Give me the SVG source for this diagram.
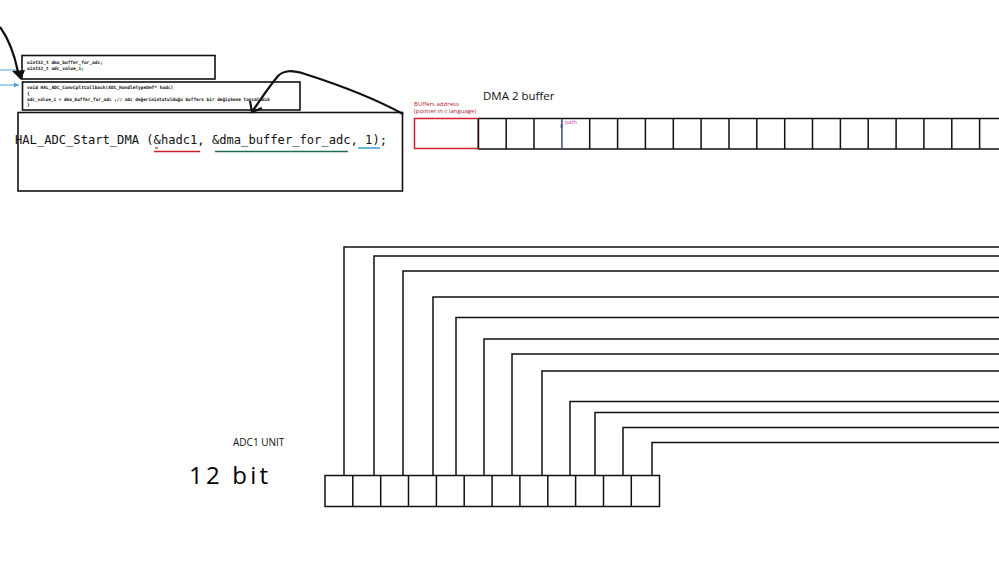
<svg xmlns="http://www.w3.org/2000/svg" width="999" height="563" viewBox="0 0 999 563">
<style>
.box{fill:#fff;stroke:#111;stroke-width:1.6}
.cell{fill:none;stroke:#111;stroke-width:1.5}
.wire{fill:none;stroke:#111;stroke-width:1.5}
.code{font-family:"DejaVu Sans Mono","Liberation Mono",monospace;font-weight:bold;font-size:4.5px;fill:#111}
.big{font-family:"DejaVu Sans Mono","Liberation Mono",monospace;font-size:12.2px;fill:#111}
.lbl{font-family:"Open Sans","Noto Sans",sans-serif;fill:#111}
</style>
<defs>
<marker id="bl" markerWidth="6" markerHeight="6" refX="5" refY="3" orient="auto" markerUnits="userSpaceOnUse">
<path d="M0,0.5 L5,3 L0,5.5 Z" fill="#4aa3d8"/>
</marker>
</defs>
<rect width="999" height="563" fill="#fff"/>

<g id="decl">
<rect class="box" x="22" y="55.5" width="193" height="23.5"/>
<text class="code" x="27" y="63.5">uint32_t dma_buffer_for_adc;</text>
<text class="code" x="27" y="70">uint32_t adc_value_1;</text>
</g>

<g id="callback">
<rect class="box" x="22.5" y="82" width="277.5" height="28"/>
<text class="code" x="27" y="89">void HAL_ADC_ConvCpltCallback(ADC_HandleTypeDef* hadc)</text>
<text class="code" x="27" y="95">{</text>
<text class="code" x="27" y="100.5" textLength="243" lengthAdjust="spacingAndGlyphs">adc_value_1 = dma_buffer_for_adc ;// adc değerinintutulduğu buffers bir değişkene tanımladık</text>
<text class="code" x="27" y="106">}</text>
</g>

<g id="startdma">
<rect class="box" x="18" y="112.5" width="384.5" height="78.5"/>
<text class="big" x="15" y="143.5" textLength="372" lengthAdjust="spacingAndGlyphs">HAL_ADC_Start_DMA (&amp;hadc1, &amp;dma_buffer_for_adc, 1);</text>
<line x1="154" y1="151.5" x2="200" y2="151.5" stroke="#c8202e" stroke-width="1.5"/>
<line x1="155" y1="148" x2="158" y2="148" stroke="#c8202e" stroke-width="1.2"/>
<line x1="215" y1="151.5" x2="348" y2="151.5" stroke="#1f6b4e" stroke-width="1.5"/>
<line x1="358" y1="148" x2="380" y2="148" stroke="#3a9ad8" stroke-width="1.5"/>
</g>

<g id="dmabuffer">
<text class="lbl" x="483" y="100" font-size="11.5">DMA 2 buffer</text>
<text class="lbl" x="414" y="106" font-size="6" style="fill:#b0202c">BUffers address</text>
<text class="lbl" x="414" y="113" font-size="6" style="fill:#b0202c">(pointer in c language)</text>
<rect x="414.5" y="118.5" width="64" height="30" fill="none" stroke="#d0202c" stroke-width="1.5"/>
<path class="cell" d="M478.3,118.5 H999 M478.3,149 H999 M478.3,118.5 V149 M506.2,118.5 V149 M534,118.5 V149 M589.7,118.5 V149 M617.6,118.5 V149 M645.4,118.5 V149 M673.3,118.5 V149 M701.1,118.5 V149 M729,118.5 V149 M756.8,118.5 V149 M784.7,118.5 V149 M812.5,118.5 V149 M840.4,118.5 V149 M868.2,118.5 V149 M896.1,118.5 V149 M923.9,118.5 V149 M951.8,118.5 V149 M979.6,118.5 V149"/>
<line x1="561.9" y1="118.5" x2="561.9" y2="149" stroke="#3b4a78" stroke-width="1.5"/>
<path d="M560,125 h3 M560,127 h3" stroke="#3b4a78" stroke-width="0.7"/>
<text class="lbl" x="565" y="124" font-size="5.5" style="fill:#c040c8">path</text>
</g>

<g id="adcunit">
<text class="lbl" x="233" y="446" font-size="10">ADC1 UNIT</text>
<text x="189" y="484" font-family="'Open Sans','Noto Sans',sans-serif" font-size="24" fill="#000" textLength="79" lengthAdjust="spacing">12 bit</text>
<path class="cell" d="M325,475.5 H659.5 V506.5 H325 Z M352.8,475.5 V506.5 M380.7,475.5 V506.5 M408.5,475.5 V506.5 M436.4,475.5 V506.5 M464.2,475.5 V506.5 M492.1,475.5 V506.5 M519.9,475.5 V506.5 M547.8,475.5 V506.5 M575.6,475.5 V506.5 M603.5,475.5 V506.5 M631.3,475.5 V506.5"/>
</g>

<g id="connectors">
<path class="wire" d="M344,475.5 V247 H999"/>
<path class="wire" d="M374,475.5 V256 H999"/>
<path class="wire" d="M403,475.5 V271 H999"/>
<path class="wire" d="M433,475.5 V297 H999"/>
<path class="wire" d="M456,475.5 V317.5 H999"/>
<path class="wire" d="M484,475.5 V339 H999"/>
<path class="wire" d="M512,475.5 V354 H999"/>
<path class="wire" d="M542,475.5 V371 H999"/>
<path class="wire" d="M570,475.5 V401.5 H999"/>
<path class="wire" d="M595,475.5 V412.5 H999"/>
<path class="wire" d="M623,475.5 V427.5 H999"/>
<path class="wire" d="M652,475.5 V442.5 H999"/>
<line x1="0" y1="70" x2="19" y2="70" stroke="#4aa3d8" stroke-width="1"/>
<line x1="0" y1="85" x2="19" y2="85" stroke="#4aa3d8" stroke-width="1" marker-end="url(#bl)"/>
<path d="M0,27 C8,38 14,52 18,72" fill="none" stroke="#111" stroke-width="2.2"/>
<path d="M12,71 L25,70 L21,80 Z" fill="#111"/>
<path d="M403,114 C370,96 330,82 305,74 C292,70 284,70 278,76 C268,88 260,100 252,112" fill="none" stroke="#111" stroke-width="2.2"/>
<path d="M250,101 L252,112 L262,108" fill="none" stroke="#111" stroke-width="2.2"/>
</g>
</svg>
